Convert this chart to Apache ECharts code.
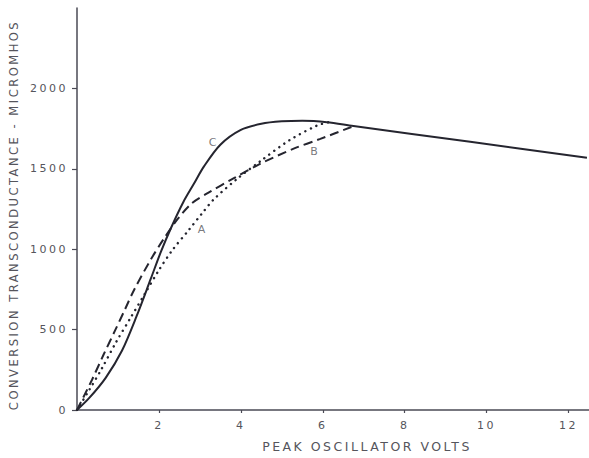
<!DOCTYPE html>
<html>
<head>
<meta charset="utf-8">
<script src="https://cdn.jsdelivr.net/npm/echarts@6/dist/echarts.min.js"></script>
<style>
  html, body { margin: 0; padding: 0; background: #ffffff; }
  #chart { width: 589px; height: 458px; }
  /* wide draughtsman-style lettering for every label */
  #chart text { letter-spacing: 2.5px; }
</style>
</head>
<body>
<div id="chart"></div>
<script>
// Conversion transconductance (micromhos) vs peak oscillator volts
const curveA = [[0,0],[0.3,125],[0.6,255],[0.95,420],[1.3,570],[1.65,720],[2.0,870],[2.33,995],
  [2.73,1120],[3.06,1225],[3.34,1310],[3.92,1440],[4.48,1548],[5.2,1680],[5.87,1770],[6.15,1790]];
const curveB = [[0,0],[0.37,190],[0.65,345],[0.93,495],[1.17,625],[1.39,745],[1.8,935],[2.12,1065],
  [2.45,1185],[2.8,1285],[3.2,1350],[3.82,1440],[4.48,1532],[5.29,1625],[5.94,1686],[6.7,1760]];
const curveC = [[0,0],[0.3,75],[0.7,200],[1.1,370],[1.45,580],[1.8,815],[2.05,985],[2.3,1135],
  [2.6,1295],[2.85,1405],[3.1,1515],[3.5,1650],[4.0,1742],[4.5,1780],[5.0,1795],[5.5,1799],
  [6.1,1790],[6.75,1766],[9.6,1668],[12.45,1569]];

// curve identification letters, placed in data units
const letterNames = ['A', 'B', 'C'];
const letterX = [3.07, 5.82, 3.34];
const letterY = [1120, 1606, 1662];

const xTicks = [2, 4, 6, 8, 10, 12];
const yTicks = [0, 500, 1000, 1500, 2000];

const ink = '#25252f';
const textColor = '#55555c';
const fontFamily = '"DejaVu Sans", sans-serif';

const chart = echarts.init(document.getElementById('chart'), null, { renderer: 'svg' });

chart.setOption({
  backgroundColor: '#ffffff',
  animation: false,
  grid: { left: 76, right: 0, top: 8, bottom: 44, containLabel: false },
  xAxis: {
    type: 'value', min: 0, max: 12.5,
    name: 'PEAK OSCILLATOR VOLTS',
    nameLocation: 'middle', nameGap: 30,
    nameTextStyle: { color: textColor, fontSize: 12.5, fontFamily: fontFamily, padding: [0, 0, 0, 68] },
    axisLine: { lineStyle: { color: '#4a4a55', width: 1.5 } },
    axisTick: { show: true, inside: false, length: 3, customValues: xTicks,
      lineStyle: { color: '#4a4a55', width: 1.2 } },
    axisLabel: { customValues: xTicks, margin: 10, color: textColor, fontSize: 11, fontFamily: fontFamily,
      formatter: v => String(v) },
    splitLine: { show: false }
  },
  yAxis: {
    type: 'value', min: 0, max: 2500,
    name: 'CONVERSION TRANSCONDUCTANCE - MICROMHOS',
    nameLocation: 'middle', nameGap: 57, nameRotate: 90,
    nameTextStyle: { color: textColor, fontSize: 11.5, fontFamily: fontFamily, padding: [0, 12, 0, 0] },
    axisLine: { show: true, lineStyle: { color: '#4a4a55', width: 1.5 } },
    axisTick: { show: true, inside: false, length: 5, customValues: yTicks,
      lineStyle: { color: '#4a4a55', width: 1.2 } },
    axisLabel: { customValues: yTicks, margin: 9, color: textColor, fontSize: 11, fontFamily: fontFamily,
      formatter: v => String(v) },
    splitLine: { show: false }
  },
  series: [
    {
      name: 'A', type: 'line', data: curveA, showSymbol: false, smooth: 0.3,
      lineStyle: { color: ink, width: 2.4, type: [0.1, 6], cap: 'round' }
    },
    {
      name: 'B', type: 'line', data: curveB, showSymbol: false, smooth: 0.3,
      lineStyle: { color: ink, width: 2, type: [9, 5] }
    },
    {
      name: 'C', type: 'line', data: curveC, showSymbol: false, smooth: 0.3,
      lineStyle: { color: ink, width: 2 }
    },
    {
      name: 'letters', type: 'scatter', symbolSize: 0, silent: true,
      data: letterNames.map((n, i) => ({ name: n, value: [letterX[i], letterY[i]] })),
      label: { show: true, position: 'inside', formatter: '{b}', color: textColor,
        fontSize: 11, fontFamily: fontFamily }
    }
  ]
});
</script>
</body>
</html>
